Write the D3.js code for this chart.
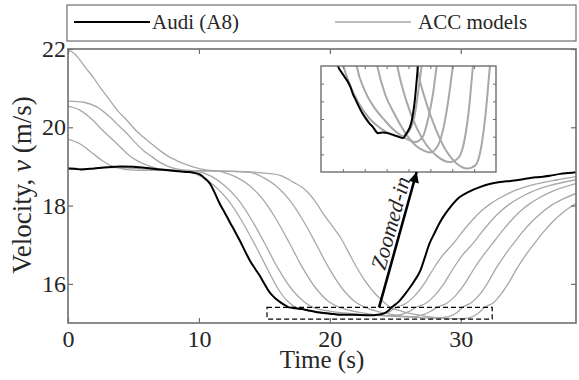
<!DOCTYPE html>
<html>
<head>
<meta charset="utf-8">
<script src="https://cdn.jsdelivr.net/npm/d3@7/dist/d3.min.js"></script>
<style>
  body { margin: 0; background: #fff; }
  svg { display: block; font-family: "Liberation Serif", "Times New Roman", serif; }
</style>
</head>
<body>
<svg id="chart"></svg>
<script>
// measured car (black) and the ACC model runs (grey), [time s, velocity m/s]
var audiA8 = [[0,18.95],[0.5,18.94],[1,18.92],[2,18.95],[3,18.98],[4,19.0],[5,18.99],[6,18.96],[7,18.92],[8,18.89],[9,18.86],[9.6,18.84],[10.1,18.79],[10.5,18.68],[10.84,18.56],[11.2,18.33],[11.6,18.04],[12,17.8],[12.37,17.57],[12.75,17.34],[13.13,17.1],[13.5,16.85],[13.9,16.59],[14.3,16.38],[14.66,16.2],[15,16.0],[15.4,15.78],[15.8,15.64],[16.18,15.54],[16.6,15.45],[16.87,15.4],[17.2,15.383],[17.5,15.37],[17.85,15.355],[18.1,15.34],[18.35,15.32],[18.6,15.305],[18.84,15.29],[19.2,15.27],[19.5,15.256],[19.9,15.24],[20.31,15.227],[20.8,15.21],[21.3,15.212],[21.79,15.21],[22.3,15.205],[22.77,15.2],[23.26,15.196],[23.58,15.208],[24.08,15.24],[24.41,15.3],[24.73,15.4],[25.3,15.56],[25.7,15.72],[26.1,15.9],[26.5,16.1],[26.9,16.33],[27.25,16.67],[27.6,17.02],[28,17.3],[28.4,17.57],[28.8,17.78],[29.2,17.96],[29.9,18.21],[30.6,18.35],[31.45,18.47],[32.2,18.55],[33,18.6],[33.8,18.63],[34.5,18.66],[35.2,18.7],[36,18.73],[36.8,18.76],[37.6,18.81],[38.2,18.83],[38.8,18.85]]

var accModel1 = [[0,19.69],[0.9,19.58],[1.9,19.33],[2.6,19.15],[3.2,19.03],[3.9,18.96],[4.5,18.92],[5.5,18.9],[7,18.9],[8.5,18.89],[9.2,18.86],[10.2,18.74],[11.2,18.5],[12.2,18.15],[13.2,17.65],[14.2,17.05],[15.2,16.4],[16,15.9],[16.7,15.58],[17.3,15.42],[18,15.35],[19,15.29],[20,15.25],[21,15.225],[22,15.207],[23,15.2],[23.7,15.21],[24.4,15.26],[25.1,15.4],[25.8,15.5],[26.5,15.7],[27.2,16.0],[27.9,16.38],[28.6,16.72],[29.4,17.02],[30.1,17.32],[30.8,17.6],[31.5,17.84],[32.2,18.03],[32.9,18.18],[33.9,18.35],[35.4,18.52],[37.4,18.66],[38.8,18.74]]

var accModel2 = [[0,20.54],[0.9,20.44],[1.9,20.18],[2.5,19.97],[3.2,19.75],[3.9,19.53],[4.5,19.33],[5.1,19.18],[5.75,19.07],[6.4,18.99],[7,18.94],[8,18.91],[9.5,18.89],[10,18.87],[11,18.74],[12,18.5],[13,18.15],[14,17.65],[15,17.05],[16,16.42],[17,15.9],[18,15.55],[18.71,15.4],[19.5,15.33],[20.5,15.28],[21.5,15.245],[22.5,15.215],[23.5,15.195],[24.5,15.185],[25.2,15.2],[25.8,15.26],[26.2,15.32],[26.57,15.4],[27.3,15.5],[28,15.7],[28.7,16.0],[29.4,16.38],[30.1,16.72],[30.9,17.02],[31.6,17.32],[32.3,17.6],[33,17.84],[33.7,18.03],[34.4,18.18],[35.4,18.35],[36.9,18.52],[38.8,18.66]]

var accModel3 = [[0,20.67],[1.2,20.64],[2.2,20.52],[3.2,20.26],[3.85,20.05],[4.5,19.84],[5.1,19.62],[5.75,19.41],[6.4,19.25],[7,19.11],[7.6,19.01],[8.3,18.94],[9.2,18.9],[10.5,18.89],[11.5,18.88],[11.9,18.85],[12.9,18.72],[13.9,18.5],[14.9,18.15],[15.9,17.65],[16.9,17.05],[17.9,16.42],[18.9,15.9],[19.9,15.55],[20.73,15.4],[21.5,15.32],[22.5,15.26],[23.5,15.21],[24.5,15.175],[25.2,15.162],[25.9,15.155],[26.6,15.17],[27.2,15.22],[27.7,15.3],[28.17,15.4],[28.9,15.5],[29.6,15.7],[30.3,16.0],[31,16.38],[31.7,16.72],[32.4,17.02],[33.1,17.32],[33.8,17.6],[34.5,17.84],[35.2,18.03],[35.9,18.18],[36.9,18.35],[38.8,18.56]]

var accModel4 = [[0,21.97],[0.5,21.88],[0.9,21.72],[1.4,21.5],[1.9,21.29],[2.5,21.0],[3.2,20.69],[3.8,20.42],[4.5,20.18],[5.1,19.95],[5.75,19.75],[6.4,19.57],[7,19.41],[7.6,19.27],[8.3,19.15],[9,19.05],[9.6,18.98],[10.2,18.93],[10.8,18.9],[12,18.88],[13.9,18.85],[14.9,18.72],[15.9,18.5],[16.9,18.15],[17.9,17.65],[18.9,17.05],[19.9,16.42],[20.9,15.9],[21.9,15.55],[22.7,15.4],[23.6,15.3],[24.6,15.225],[25.6,15.175],[26.6,15.145],[27.85,15.128],[28.7,15.14],[29.3,15.19],[29.75,15.28],[30.14,15.4],[30.8,15.52],[31.5,15.75],[32.1,16.05],[32.7,16.4],[33.35,16.73],[34,17.02],[34.7,17.32],[35.4,17.58],[36.1,17.8],[36.8,17.98],[37.7,18.15],[38.8,18.31]]

var accModel5 = [[0,18.96],[1,18.94],[2,18.95],[3,18.97],[4,18.97],[5,18.95],[6,18.93],[7,18.91],[8,18.9],[10,18.89],[12,18.88],[14,18.86],[15,18.83],[16.2,18.77],[17.2,18.6],[18.2,18.38],[18.9,18.1],[19.5,17.79],[20.2,17.47],[20.8,17.19],[21.5,16.76],[22,16.45],[22.6,16.12],[23.2,15.85],[23.9,15.6],[24.64,15.4],[25.5,15.3],[26.5,15.22],[27.5,15.16],[28.5,15.125],[29.6,15.11],[30.4,15.12],[31,15.18],[31.4,15.27],[31.81,15.4],[32.5,15.52],[33.1,15.75],[33.7,16.05],[34.3,16.4],[34.95,16.73],[35.6,17.02],[36.3,17.32],[37,17.58],[37.9,17.85],[38.8,18.05]]

var accModels = [accModel1, accModel2, accModel3, accModel4, accModel5]

var timeDomain = [0, 38.8]
var velocityDomain = [15, 22]
var xTicks = [0, 10, 20, 30]
var yTicks = [16, 18, 20, 22]
var legendLabels = ["Audi (A8)", "ACC models"]

// zoomed window (dashed box in main plot, full extent of inset)
var zoomTime = [15.2, 32.4]
var zoomVelocity = [15.1, 15.4]
var insetXTicks = [17.35, 19.5, 21.65, 23.8, 25.95, 28.1, 30.25]
var insetYTicks = [15.15, 15.2, 15.25, 15.3, 15.35]
var arrowStartTime = 23.76   // main plot, on top of dashed box
var arrowEndTime = 24.6      // inset, on its bottom edge

var width = 579
var height = 380
var margin = ({top: 49, right: 3, bottom: 57, left: 68})
var grey = "#a8a8a8"
var axisColor = "#6e6e6e"
var textColor = "#262626"

var svg = d3.select("#chart")
  .attr("width", width)
  .attr("height", height)

var x = d3.scaleLinear()
  .domain(timeDomain)
  .range([margin.left, width - margin.right])
var y = d3.scaleLinear()
  .domain(velocityDomain)
  .range([height - margin.bottom, margin.top])

var line = d3.line()
  .x(d => x(d[0]))
  .y(d => y(d[1]))
  .curve(d3.curveMonotoneX)

var defs = svg.append("defs")
defs.append("clipPath").attr("id", "mainClip")
  .append("rect")
  .attr("x", x.range()[0]).attr("y", y.range()[1])
  .attr("width", x.range()[1] - x.range()[0])
  .attr("height", y.range()[0] - y.range()[1])

var plot = svg.append("g").attr("clip-path", "url(#mainClip)")
plot.selectAll(".acc")
  .data(accModels)
  .join("path")
  .attr("class", "acc")
  .attr("fill", "none")
  .attr("stroke", grey)
  .attr("stroke-width", 1.3)
  .attr("d", line)
plot.append("path")
  .datum(audiA8)
  .attr("fill", "none")
  .attr("stroke", "#000")
  .attr("stroke-width", 2)
  .attr("stroke-linejoin", "round")
  .attr("d", line)

// axes, matlab style: ticks inside, boxed
var xAxis = (g) => g
  .attr("transform", `translate(0,${y.range()[0]})`)
  .call(d3.axisBottom(x).tickValues(xTicks).tickSize(-5).tickPadding(7).tickFormat(d3.format("d")))
var yAxis = (g) => g
  .attr("transform", `translate(${x.range()[0]},0)`)
  .call(d3.axisLeft(y).tickValues(yTicks).tickSize(-5).tickPadding(2).tickFormat(d3.format("d")))
var xTop = (g) => g
  .attr("transform", `translate(0,${y.range()[1]})`)
  .call(d3.axisTop(x).tickValues(xTicks).tickSize(-5).tickFormat(""))
var yRight = (g) => g
  .attr("transform", `translate(${x.range()[1]},0)`)
  .call(d3.axisRight(y).tickValues(yTicks).tickSize(-5).tickFormat(""))

;[xAxis, yAxis, xTop, yRight].forEach(ax => {
  var g = svg.append("g").call(ax)
    .attr("font-family", "'Liberation Serif', serif")
    .attr("font-size", 24)
  g.select(".domain").remove()
  g.selectAll(".tick line").attr("stroke", axisColor).attr("stroke-width", 1.2)
  g.selectAll(".tick text").attr("fill", textColor)
})

svg.append("rect")
  .attr("x", x.range()[0]).attr("y", y.range()[1])
  .attr("width", x.range()[1] - x.range()[0])
  .attr("height", y.range()[0] - y.range()[1])
  .attr("fill", "none")
  .attr("stroke", axisColor)
  .attr("stroke-width", 1.6)

svg.append("text")
  .attr("x", (x.range()[0] + x.range()[1]) / 2)
  .attr("y", 368)
  .attr("text-anchor", "middle")
  .attr("fill", textColor)
  .style("font-size", "25px")
  .text("Time (s)")

var yl = svg.append("text")
  .attr("transform", `translate(31,${(y.range()[0] + y.range()[1]) / 2 - 1}) rotate(-90)`)
  .attr("text-anchor", "middle")
  .attr("fill", textColor)
  .style("font-size", "27px")
yl.append("tspan").text("Velocity, ")
yl.append("tspan").style("font-style", "italic").text("v")
yl.append("tspan").text(" (m/s)")

// legend box across the top
var legend = svg.append("g")
legend.append("rect")
  .attr("x", x.range()[0] - 1).attr("y", 5)
  .attr("width", x.range()[1] - x.range()[0] + 1).attr("height", 36)
  .attr("fill", "#fff")
  .attr("stroke", axisColor)
  .attr("stroke-width", 1.2)
var legendItems = legend.selectAll(".item")
  .data(legendLabels)
  .join("g")
  .attr("transform", (d, i) => `translate(${[74, 335][i]},22)`)
legendItems.append("line")
  .attr("x1", 0).attr("x2", 76)
  .attr("stroke", (d, i) => i === 0 ? "#000" : grey)
  .attr("stroke-width", (d, i) => i === 0 ? 2 : 1.5)
legendItems.append("text")
  .attr("x", (d, i) => [78, 83][i]).attr("dy", "0.33em")
  .attr("fill", textColor)
  .style("font-size", "21px")
  .text(d => d)

// dashed box marking the zoomed part
svg.append("rect")
  .attr("x", x(zoomTime[0])).attr("y", y(zoomVelocity[1]))
  .attr("width", x(zoomTime[1]) - x(zoomTime[0]))
  .attr("height", y(zoomVelocity[0]) - y(zoomVelocity[1]))
  .attr("fill", "none")
  .attr("stroke", "#000")
  .attr("stroke-width", 1.2)
  .attr("stroke-dasharray", "5,3")

// inset
var xi = d3.scaleLinear().domain(zoomTime).range([321, 496])
var yi = d3.scaleLinear().domain(zoomVelocity).range([172, 66])
var lineInset = d3.line()
  .x(d => xi(d[0]))
  .y(d => yi(d[1]))
  .curve(d3.curveMonotoneX)

svg.append("rect")
  .attr("x", 321).attr("y", 66)
  .attr("width", 175).attr("height", 106)
  .attr("fill", "#fff")
defs.append("clipPath").attr("id", "insetClip")
  .append("rect")
  .attr("x", 321).attr("y", 66).attr("width", 175).attr("height", 106)
var inset = svg.append("g").attr("clip-path", "url(#insetClip)")
inset.selectAll(".acc")
  .data(accModels)
  .join("path")
  .attr("fill", "none")
  .attr("stroke", grey)
  .attr("stroke-width", 2)
  .attr("d", lineInset)
inset.append("path")
  .datum(audiA8)
  .attr("fill", "none")
  .attr("stroke", "#000")
  .attr("stroke-width", 2)
  .attr("d", lineInset)

var insetAxes = [
  g => g.attr("transform", "translate(0,172)").call(d3.axisBottom(xi).tickValues(insetXTicks).tickSize(-3).tickFormat("")),
  g => g.attr("transform", "translate(0,66)").call(d3.axisTop(xi).tickValues(insetXTicks).tickSize(-3).tickFormat("")),
  g => g.attr("transform", "translate(321,0)").call(d3.axisLeft(yi).tickValues(insetYTicks).tickSize(-3).tickFormat("")),
  g => g.attr("transform", "translate(496,0)").call(d3.axisRight(yi).tickValues(insetYTicks).tickSize(-3).tickFormat(""))
]
insetAxes.forEach(ax => {
  var g = svg.append("g").call(ax)
  g.select(".domain").remove()
  g.selectAll(".tick line").attr("stroke", axisColor)
})
svg.append("rect")
  .attr("x", 321).attr("y", 66)
  .attr("width", 175).attr("height", 106)
  .attr("fill", "none")
  .attr("stroke", axisColor)
  .attr("stroke-width", 1.4)

// arrow from dashed box to inset
defs.append("marker")
  .attr("id", "head")
  .attr("viewBox", "0 0 10 10")
  .attr("refX", 10).attr("refY", 5)
  .attr("markerWidth", 6).attr("markerHeight", 4)
  .attr("markerUnits", "strokeWidth")
  .attr("orient", "auto")
  .append("path")
  .attr("d", "M0,0L10,5L0,10z")
  .attr("fill", "#000")
var x0 = x(arrowStartTime), y0 = y(zoomVelocity[1])
var x1 = xi(arrowEndTime), y1 = yi(zoomVelocity[0])
svg.append("line")
  .attr("x1", x0).attr("y1", y0)
  .attr("x2", x1).attr("y2", y1)
  .attr("stroke", "#000")
  .attr("stroke-width", 2.6)
  .attr("marker-end", "url(#head)")
var angle = Math.atan2(y1 - y0, x1 - x0) * 180 / Math.PI
svg.append("text")
  .attr("transform", `translate(${x0 + (x1 - x0) * 0.6},${y0 + (y1 - y0) * 0.6}) rotate(${angle}) translate(0,-4)`)
  .attr("text-anchor", "middle")
  .attr("fill", textColor)
  .style("font-size", "22px")
  .style("font-style", "italic")
  .text("Zoomed-in")
</script>
</body>
</html>
